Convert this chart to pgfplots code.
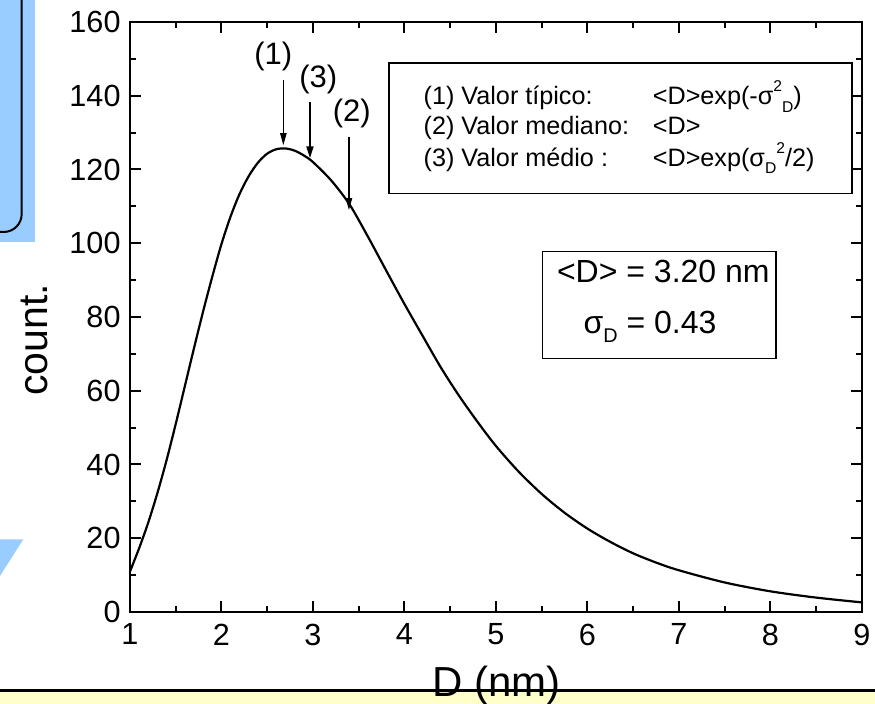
\documentclass[border=0pt]{standalone}
\usepackage{fontspec}
\setmainfont{Liberation Sans}
\usepackage{graphicx}
\usepackage{pgfplots}
\pgfplotsset{compat=1.18}
\usetikzlibrary{arrows.meta}
\definecolor{slideblue}{HTML}{99CCFF}
\definecolor{slideyellow}{HTML}{FFFFCC}
% staggered super/subscripts as in the original
\newcommand\sps[1]{\raisebox{0.5em}{\scalebox{0.62}{#1}}}
\newcommand\sbs[1]{\raisebox{-0.3em}{\scalebox{0.62}{#1}}}

\begin{document}
\begin{tikzpicture}
\path[use as bounding box] (-65pt,-46pt) rectangle (372.5pt,306pt);
\clip (-65pt,-46pt) rectangle (372.5pt,306pt);
% slide decorations, in pixel units of the reference
\begin{scope}[x=0.5pt,y=-0.5pt,shift={(-65pt,306pt)}]
  \fill[slideblue] (0,0) rectangle (35,242);
  \draw[line width=1pt, rounded corners=9pt] (21.7,-10) -- (21.7,232) -- (-10,232);
  \fill[slideblue] (0,539.3) -- (23.3,539.3) -- (0,576) -- cycle;
  \fill[slideyellow] (-5,691) rectangle (880,710);
  \draw[line width=1.5pt] (-5,691) -- (880,691);
\end{scope}

\begin{axis}[
    scale only axis,
    width=366pt, height=295pt,
    xmin=1, xmax=9, ymin=0, ymax=160,
    xtick={1,2,...,9}, ytick={0,20,...,160},
    minor x tick num=1, minor y tick num=1,
    tick align=inside,
    major tick length=5.5pt, minor tick length=2.8pt,
    every tick/.style={black, line width=1pt},
    axis line style={line width=1.1pt},
    ticklabel style={font=\fontsize{15.3}{18}\selectfont},
    /pgf/number format/assume math mode=true,
    xticklabel style={yshift=-2.3pt},
    yticklabel style={xshift=-1.2pt},
    xlabel={D (nm)},
    xlabel style={at={(axis description cs:0.501,-0.144)}, anchor=base,
        font=\fontsize{21}{25}\selectfont},
    ylabel={count.},
    ylabel style={at={(axis description cs:-0.131,0.461)}, anchor=center,
        font=\fontsize{20.5}{24}\selectfont},
]
\addplot[smooth, line width=1.1pt, black] coordinates {
    (1.0,11.0) (1.1,17.3) (1.2,24.3) (1.3,32.3) (1.4,41.2) (1.5,51.0)
    (1.6,61.3) (1.7,71.6) (1.8,81.6) (1.9,91.0) (2.0,99.8) (2.1,107.3)
    (2.2,113.5) (2.3,118.3) (2.4,121.9) (2.5,124.3) (2.6,125.5) (2.7,125.7)
    (2.8,125.1) (2.9,123.8) (3.0,122.0) (3.2,117.0) (3.4,110.5) (3.6,101.8)
    (3.8,92.6) (4.0,83.5) (4.2,74.8) (4.4,66.2) (4.6,58.5) (4.8,51.5)
    (5.0,45.0) (5.25,38.0) (5.5,32.0) (5.75,26.9) (6.0,22.6) (6.25,19.0)
    (6.5,15.9) (6.75,13.4) (7.0,11.3) (7.5,8.0) (8.0,5.6) (8.5,3.9) (9.0,2.6)
};

% arrows to the typical, mean and median values
\draw[line width=0.55pt, -{Triangle[length=6pt,width=3.2pt]}]
    (axis cs:2.676,144.3) -- (axis cs:2.676,126.6);
\draw[line width=1.1pt, -{Triangle[length=6pt,width=3.4pt]}]
    (axis cs:2.967,138.4) -- (axis cs:2.967,123.0);
\draw[line width=0.55pt, -{Triangle[length=6pt,width=3.2pt]}]
    (axis cs:3.393,128.9) -- (axis cs:3.393,109.0);
\node[font=\fontsize{15.5}{18}\selectfont] at (axis cs:2.566,150.6) {(1)};
\node[font=\fontsize{15.5}{18}\selectfont] at (axis cs:3.058,144.3) {(3)};
\node[font=\fontsize{15.5}{18}\selectfont] at (axis cs:3.424,135.2) {(2)};

% box with the definitions
\draw[line width=0.6pt] (axis cs:3.831,148.9) rectangle (axis cs:8.891,113.4);
\begin{scope}[every node/.style={anchor=base west, inner sep=0pt,
        font=\fontsize{12.6}{15}\selectfont}]
  \node at (axis cs:4.205,137.6) {(1) Valor típico:};
  \node at (axis cs:6.71,137.6) {<D>exp(-σ\sps{2}\sbs{D})};
  \node at (axis cs:4.205,129.4) {(2) Valor mediano:};
  \node at (axis cs:6.71,129.4) {<D>};
  \node at (axis cs:4.205,120.9) {(3) Valor médio :};
  \node at (axis cs:6.71,120.9) {<D>exp(σ\sbs{D}\sps{2}/2)};
\end{scope}

% box with the parameters
\draw[line width=0.6pt] (axis cs:5.508,97.7) rectangle (axis cs:8.060,68.8);
\begin{scope}[every node/.style={anchor=base west, inner sep=0pt,
        font=\fontsize{16}{19}\selectfont}]
  \node at (axis cs:5.663,89.3) {<D> = 3.20 nm};
  \node at (axis cs:5.954,75.6) {σ\sbs{D} = 0.43};
\end{scope}
\end{axis}
\end{tikzpicture}
\end{document}
